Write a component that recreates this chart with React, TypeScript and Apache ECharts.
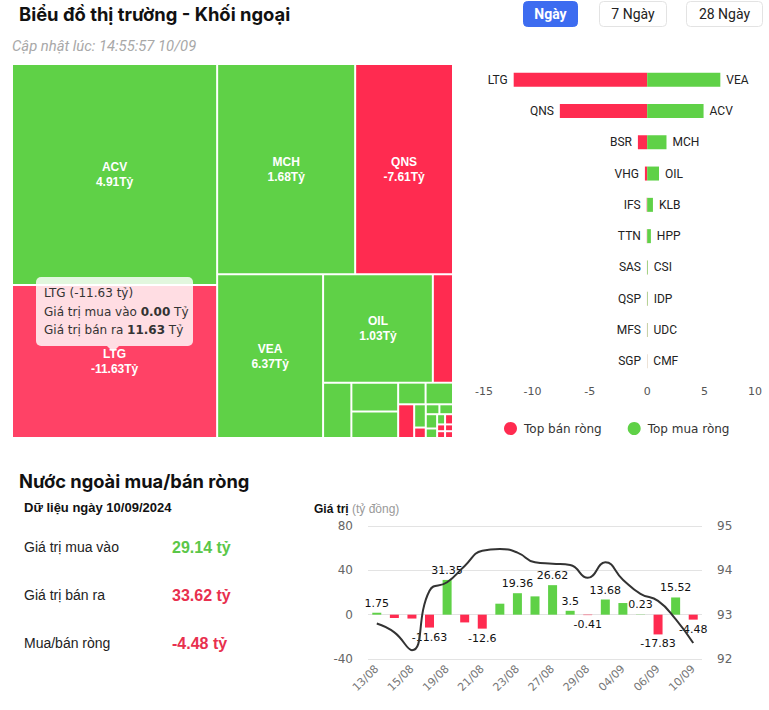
import React, { useEffect, useRef } from 'react';
import * as echarts from 'echarts';

// ---------- data ----------
// Treemap: total traded value (buy + sell, tỷ) and net value per stock
const tmNames = ['ACV', 'LTG', 'MCH', 'QNS', 'VEA', 'OIL', 'BSR', 'KLB', 'HPP', 'CSI', 'IDP', 'UDC', 'VHG', 'PVT', 'IFS', 'DVN', 'HHV', 'GEG', 'NTC', 'TDM', 'TTN', 'SAS', 'QSP', 'MFS', 'SGP'];
const tmTotal = [16.8, 11.63, 10.75, 7.62, 6.43, 4.41, 0.81, 0.58, 0.5, 0.46, 0.22, 0.22, 0.2, 0.1, 0.045, 0.05, 0.05, 0.06, 0.04, 0.03, 0.03, 0.02, 0.02, 0.02, 0.02];
const tmNet = [4.91, -11.63, 1.68, -7.61, 6.37, 1.03, -0.81, 0.5, 0.32, 0.05, 0.04, 0.03, -0.2, 0.02, -0.045, 0.01, 0.02, 0.03, 0.01, 0.01, -0.03, -0.02, -0.02, -0.02, -0.01];
const tmLabeled = ['ACV', 'LTG', 'MCH', 'QNS', 'VEA', 'OIL'];
// grouping of treemap leaves (indices into tmNames)
const tmTree: any[] = [[0, 1], [2, 3], [4, [[5, 6], [7, 8, 9, 10, 11, 12, 13, 14, 15, 16, 17, 18, 19, 20, 21, 22, 23, 24]]]];
const tipIndex = 1;

// Top net sell / buy
const sellNames = ['LTG', 'QNS', 'BSR', 'VHG', 'IFS', 'TTN', 'SAS', 'QSP', 'MFS', 'SGP'];
const sellValues = [-11.63, -7.61, -0.81, -0.2, -0.04, -0.03, -0.02, -0.02, -0.02, -0.01];
const buyNames = ['VEA', 'ACV', 'MCH', 'OIL', 'KLB', 'HPP', 'CSI', 'IDP', 'UDC', 'CMF'];
const buyValues = [6.37, 4.91, 1.68, 1.03, 0.5, 0.32, 0.05, 0.04, 0.03, 0.01];

// Daily net flow
const days = ['13/08', '14/08', '15/08', '16/08', '19/08', '20/08', '21/08', '22/08', '23/08', '26/08', '27/08', '28/08', '29/08', '30/08', '04/09', '05/09', '06/09', '09/09', '10/09'];
const netFlow = [1.75, -3, -3.5, -11.63, 31.35, -7, -12.6, 9.9, 19.36, 16.5, 26.62, 3.5, -0.41, 13.68, 10.5, 0.23, -17.83, 15.52, -4.48];
const flowLabelShown = [true, false, false, true, true, false, true, false, true, false, true, true, true, true, false, true, true, true, true];
const indexLine = [92.8, 92.6, 92.2, 93.54, 93.73, 94.1, 94.44, 94.48, 94.4, 94.18, 94.15, 94.12, 93.83, 94.18, 93.79, 93.47, 93.31, 92.9, 92.36];

const summaryLabels = ['Giá trị mua vào', 'Giá trị bán ra', 'Mua/bán ròng'];
const summaryValues = [29.14, 33.62, -4.48];
const periods = ['Ngày', '7 Ngày', '28 Ngày'];

// ---------- styles ----------
const GREEN = '#5fd147';
const RED = '#ff2b50';
const RED_HOVER = '#ff4266';

function buildNode(n: any): any {
  if (Array.isArray(n)) {
    const children = n.map(buildNode);
    const value = children.reduce((s: number, c: any) => s + c.value, 0);
    return { name: 'g', value, children, itemStyle: { borderWidth: 0, gapWidth: 0 } };
  }
  const name = tmNames[n];
  const net = tmNet[n];
  const show = tmLabeled.indexOf(name) >= 0;
  const valStr = net.toFixed(2) + 'Tỷ';
  return {
    name,
    value: tmTotal[n],
    itemStyle: {
      color: n === tipIndex ? RED_HOVER : net >= 0 ? GREEN : RED,
      borderWidth: 1,
      borderColor: '#fff',
    },
    label: show
      ? {
          show: true,
          position: 'inside',
          align: 'center',
          verticalAlign: 'middle',
          formatter: `${name}\n${valStr}`,
          color: '#fff',
          fontWeight: 'bold',
          fontSize: 12,
          lineHeight: 15,
          fontFamily: 'Liberation Sans, Arial, sans-serif',
        }
      : { show: false },
  };
}

export default function App() {
  const ref = useRef<HTMLDivElement>(null);
  useEffect(() => {
    if (!ref.current) return;
    const chart = echarts.init(ref.current, undefined, { renderer: 'svg' });

    const tipNet = tmNet[tipIndex];
    const tipBuy = (tmTotal[tipIndex] + tipNet) / 2;
    const tipSell = (tmTotal[tipIndex] - tipNet) / 2;

    const btnX = [523, 599, 686];
    const btnW = [54, 67, 76];
    const graphics: any[] = [
      { type: 'text', x: 19, y: 14, style: { text: 'Biểu đồ thị trường - Khối ngoại', fontFamily: 'Inter', fontWeight: 'bold', fontSize: 18.4, fill: '#111', verticalAlign: 'middle' } },
      { type: 'text', x: 12, y: 46, style: { text: 'Cập nhật lúc: 14:55:57 10/09', fontFamily: 'Roboto', fontStyle: 'italic', fontSize: 14.8, fill: '#a8a8a8', verticalAlign: 'middle' } },
      { type: 'text', x: 19, y: 481, style: { text: 'Nước ngoài mua/bán ròng', fontFamily: 'Inter', fontWeight: 'bold', fontSize: 18.3, fill: '#111', verticalAlign: 'middle' } },
      { type: 'text', x: 24, y: 507, style: { text: 'Dữ liệu ngày 10/09/2024', fontFamily: 'Liberation Sans', fontWeight: 'bold', fontSize: 13, fill: '#111', verticalAlign: 'middle' } },
      { type: 'text', x: 314, y: 509, style: { text: '{b|Giá trị} {g|(tỷ đồng)}', verticalAlign: 'middle', rich: { b: { fontFamily: 'Liberation Sans', fontWeight: 'bold', fontSize: 12, fill: '#111' }, g: { fontFamily: 'Liberation Sans', fontSize: 12, fill: '#999' } } } },
    ];
    periods.forEach((p, i) => {
      const active = i === 0;
      graphics.push({ type: 'rect', shape: { x: btnX[i] + 0.5, y: 1.5, width: btnW[i], height: 25, r: 4 }, style: { fill: active ? '#3d6cf0' : '#fff', stroke: active ? '#3d6cf0' : '#e3e3e3', lineWidth: 1 } });
      graphics.push({ type: 'text', x: btnX[i] + btnW[i] / 2 + 0.5, y: 14, style: { text: p, align: 'center', verticalAlign: 'middle', fontFamily: 'Roboto', fontSize: 14, fontWeight: active ? 'bold' : 'normal', fill: active ? '#fff' : '#222' } });
    });
    const rowY = [547, 595, 643];
    summaryLabels.forEach((l, i) => {
      const v = summaryValues[i];
      const col = i === 0 ? '#5bc748' : '#e8304e';
      graphics.push({ type: 'text', x: 24, y: rowY[i], style: { text: l, fontFamily: 'Liberation Sans', fontSize: 14, fill: '#222', verticalAlign: 'middle' } });
      graphics.push({ type: 'text', x: 172, y: rowY[i], style: { text: v.toFixed(2) + ' tỷ', fontFamily: 'Liberation Sans', fontWeight: 'bold', fontSize: 16, fill: col, verticalAlign: 'middle' } });
    });
    // static tooltip over LTG cell
    const tipFont = 'DejaVu Sans';
    graphics.push({ type: 'rect', z: 100, shape: { x: 36, y: 277, width: 157, height: 69, r: 5 }, style: { fill: 'rgba(255,255,255,0.82)' } });
    graphics.push({ type: 'polygon', z: 100, shape: { points: [[107, 346], [119, 346], [113, 352]] }, style: { fill: 'rgba(255,255,255,0.82)' } });
    graphics.push({ type: 'text', z: 101, x: 44, y: 293, style: { text: `${tmNames[tipIndex]} (${tipNet.toFixed(2)} tỷ)`, fontFamily: tipFont, fontSize: 12, fill: '#333', verticalAlign: 'middle' } });
    graphics.push({ type: 'text', z: 101, x: 44, y: 311.5, style: { text: `{a|Giá trị mua vào }{b|${tipBuy.toFixed(2)}}{a| Tỷ}`, verticalAlign: 'middle', rich: { a: { fontFamily: tipFont, fontSize: 12, fill: '#333' }, b: { fontFamily: tipFont, fontSize: 12, fontWeight: 'bold', fill: '#333' } } } });
    graphics.push({ type: 'text', z: 101, x: 44, y: 330, style: { text: `{a|Giá trị bán ra }{b|${tipSell.toFixed(2)}}{a| Tỷ}`, verticalAlign: 'middle', rich: { a: { fontFamily: tipFont, fontSize: 12, fill: '#333' }, b: { fontFamily: tipFont, fontSize: 12, fontWeight: 'bold', fill: '#333' } } } });

    const axisFont = 'DejaVu Sans';
    const option: any = {
      animation: false,
      backgroundColor: '#fff',
      graphic: { elements: graphics },
      legend: {
        data: ['Top bán ròng', 'Top mua ròng'],
        left: 499,
        top: 417,
        icon: 'circle',
        itemWidth: 13,
        itemHeight: 13,
        itemGap: 26,
        textStyle: { fontFamily: axisFont, fontSize: 12, color: '#333', padding: [0, 0, 0, 2] },
      },
      grid: [
        { left: 475, width: 287, top: 64, height: 313 },
        { left: 368, right: 67, top: 526, height: 133 },
      ],
      xAxis: [
        {
          gridIndex: 0, type: 'value', min: -15, max: 10, interval: 5,
          axisLine: { show: false }, axisTick: { show: false }, splitLine: { show: false },
          axisLabel: { fontFamily: axisFont, fontSize: 11, color: '#555', margin: 9, alignMinLabel: 'left', alignMaxLabel: 'right' },
        },
        {
          gridIndex: 1, type: 'category', data: days,
          axisLine: { show: false }, axisTick: { show: false },
          axisLabel: { interval: 1, rotate: 45, fontFamily: axisFont, fontSize: 11, color: '#777', margin: 8 },
        },
      ],
      yAxis: [
        { gridIndex: 0, type: 'category', data: sellNames, inverse: true, show: false },
        {
          gridIndex: 1, type: 'value', min: -40, max: 80, interval: 40,
          axisLine: { show: false }, axisTick: { show: false },
          splitLine: { lineStyle: { color: '#e3e3e3' } },
          axisLabel: { fontFamily: axisFont, fontSize: 12, color: '#666', margin: 15 },
        },
        {
          gridIndex: 1, type: 'value', min: 92, max: 95, interval: 1, position: 'right',
          axisLine: { show: false }, axisTick: { show: false }, splitLine: { show: false },
          axisLabel: { fontFamily: axisFont, fontSize: 12, color: '#666', margin: 15 },
        },
      ],
      series: [
        {
          type: 'treemap',
          left: 12, top: 64, width: 441, height: 374,
          squareRatio: 1,
          sort: false,
          roam: false,
          nodeClick: false,
          breadcrumb: { show: false },
          itemStyle: { borderWidth: 0, gapWidth: 0, borderColor: '#fff' },
          label: { show: true, position: 'inside', align: 'center', verticalAlign: 'middle' },
          data: tmTree.map(buildNode),
        },
        {
          name: 'Top bán ròng', type: 'bar', xAxisIndex: 0, yAxisIndex: 0,
          data: sellValues, barWidth: 14, barGap: '-100%', color: RED,
          itemStyle: { color: RED },
          label: { show: true, position: 'left', distance: 6, formatter: (p: any) => sellNames[p.dataIndex], fontFamily: 'Roboto', fontSize: 12, color: '#222' },
        },
        {
          name: 'Top mua ròng', type: 'bar', xAxisIndex: 0, yAxisIndex: 0,
          data: buyValues, barWidth: 14, barGap: '-100%', color: GREEN,
          itemStyle: { color: GREEN },
          label: { show: true, position: 'right', distance: 6, formatter: (p: any) => buyNames[p.dataIndex], fontFamily: 'Roboto', fontSize: 12, color: '#222' },
        },
        {
          name: 'Giá trị', type: 'bar', xAxisIndex: 1, yAxisIndex: 1, barWidth: 9,
          data: netFlow.map((v, i) => ({
            value: v,
            itemStyle: { color: v >= 0 ? GREEN : RED },
            label: { show: flowLabelShown[i], position: v >= 0 ? 'top' : 'bottom' },
          })),
          label: { fontFamily: axisFont, fontSize: 11, color: '#111', distance: 4 },
        },
        {
          name: 'VN', type: 'line', xAxisIndex: 1, yAxisIndex: 2, data: indexLine,
          smooth: true, symbol: 'none', lineStyle: { color: '#333', width: 2 }, color: '#333', z: 5,
        },
      ],
    };
    chart.setOption(option);
    return () => chart.dispose();
  }, []);
  return <div ref={ref} style={{ position: 'absolute', left: 0, top: 0, width: 769, height: 710, background: '#fff' }} />;
}
